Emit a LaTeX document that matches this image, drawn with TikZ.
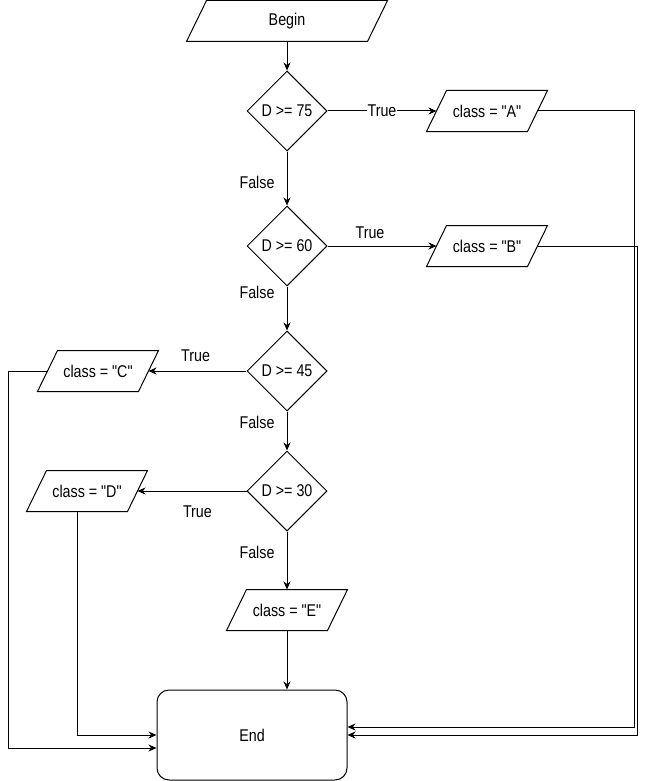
\documentclass[tikz,border=0pt]{standalone}
\usepackage{fontspec}
\setmainfont{Liberation Sans}[FakeStretch=0.84, Ligatures=TeXOff]
\usetikzlibrary{shapes.geometric,arrows.meta,calc}
\newcommand\parabox[5]{%
  \node[pbox, minimum width=#4] (#1) at (#2,#3) {#5};
  \draw (#1.south west) -- ($(#1.north west)+(20,0)$) -- (#1.north east) -- ($(#1.south east)+(-20,0)$) -- cycle;
  \coordinate (#1-l) at ($(#1.west)+(10,0)$);
  \coordinate (#1-r) at ($(#1.east)+(-10,0)$);
}
\begin{document}
\begin{tikzpicture}[x=1pt,y=-1pt,
  font=\fontsize{17}{20}\selectfont, line width=1pt,
  dia/.style={diamond, draw, minimum width=80pt, minimum height=80pt, inner sep=0pt},
  pbox/.style={rectangle, minimum height=40pt, inner sep=0pt},
  arr/.style={-{Stealth[length=8pt,width=7pt,inset=2.5pt]}},
  lbl/.style={fill=white, inner sep=1pt}]
\useasboundingbox (0,0) rectangle (656,781);

\parabox{begin}{287}{21}{200pt}{Begin}
\node[dia] (d75) at (287,111) {D >= 75};
\parabox{ca}{487}{111}{120pt}{class = "A"}
\node[dia] (d60) at (287,246) {D >= 60};
\parabox{cb}{487}{246}{120pt}{class = "B"}
\node[dia] (d45) at (287,371) {D >= 45};
\parabox{cc}{98}{371}{120pt}{class = "C"}
\node[dia] (d30) at (287,491) {D >= 30};
\parabox{cd}{87}{491}{120pt}{class = "D"}
\parabox{ce}{287}{610}{120pt}{class = "E"}
\node[draw, rounded corners=12pt, minimum width=190pt, minimum height=90pt] (end) at (252,735) {End};

\draw[arr] (begin) -- (d75);
\draw[arr] (d75) -- node[lbl]{True} (ca-l);
\draw[arr] (d75) -- node[pos=0.58, xshift=-30pt]{False} (d60);
\draw[arr] (d60) -- node[pos=0.39, yshift=13pt]{True} (cb-l);
\draw[arr] (d60) -- node[pos=0.13, xshift=-30pt]{False} (d45);
\draw[arr] (d45) -- node[pos=0.52, yshift=15pt]{True} (cc-r);
\draw[arr] (d45) -- node[pos=0.28, xshift=-30pt]{False} (d30);
\draw[arr] (d30) -- node[pos=0.45, yshift=-21pt]{True} (cd-r);
\draw[arr] (d30) -- node[pos=0.36, xshift=-30pt]{False} (ce);
\draw[arr] (ce) -- (ce.south |- end.north);

\draw[arr] (ca-r) -- ++(97,0) |- ($(end.east)+(0,-8)$);
\draw[arr] (cb-r) -- ++(100,0) |- (end.east);
\draw[arr] (cc-l) -- (8,371) |- ($(end.west)+(0,13)$);
\draw[arr] ($(cd.south)+(-10,0)$) |- (end.west);
\end{tikzpicture}
\end{document}
